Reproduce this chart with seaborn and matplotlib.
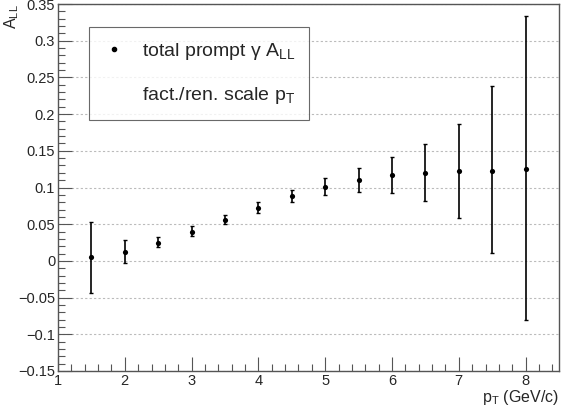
import numpy as np
import pandas as pd
import matplotlib
matplotlib.use('Agg')
import matplotlib.pyplot as plt
import seaborn as sns
from matplotlib.ticker import MultipleLocator
from matplotlib.lines import Line2D

pt = [1.5, 2.0, 2.5, 3.0, 3.5, 4.0, 4.5, 5.0, 5.5, 6.0, 6.5, 7.0, 7.5, 8.0]
all_vals = [0.005, 0.012, 0.025, 0.040, 0.056, 0.072, 0.088, 0.101, 0.110, 0.117, 0.120, 0.122, 0.123, 0.125]
err_lo = [0.049, 0.015, 0.006, 0.006, 0.006, 0.007, 0.008, 0.011, 0.016, 0.024, 0.038, 0.064, 0.112, 0.205]
err_hi = [0.048, 0.017, 0.007, 0.007, 0.007, 0.008, 0.008, 0.012, 0.017, 0.025, 0.039, 0.065, 0.115, 0.208]

df = pd.DataFrame({'pt': pt, 'all': all_vals})

sns.set_style('ticks')
plt.rcParams['font.family'] = ['Liberation Sans', 'DejaVu Sans']
plt.rcParams['mathtext.fontset'] = 'custom'
plt.rcParams['mathtext.rm'] = 'Liberation Sans'

fig = plt.figure(figsize=(5.61, 4.13), dpi=100)
ax = fig.add_axes([0.1034, 0.1017, 0.8930, 0.8886])

ax.errorbar(df['pt'], df['all'], yerr=[err_lo, err_hi], fmt='none',
            ecolor='black', elinewidth=1.2, capsize=1.5, capthick=1.0, zorder=3)
sns.scatterplot(data=df, x='pt', y='all', ax=ax, color='black', s=14,
                marker='o', edgecolor='black', linewidth=0, zorder=4, legend=False)

ax.set_xlim(1, 8.5)
ax.set_ylim(-0.15, 0.35)
ax.xaxis.set_minor_locator(MultipleLocator(0.2))
ax.yaxis.set_minor_locator(MultipleLocator(0.01))
ax.set_xticks([1, 2, 3, 4, 5, 6, 7, 8])
ax.set_xticklabels(['1', '2', '3', '4', '5', '6', '7', '8'])
yt = np.round(np.arange(-0.15, 0.351, 0.05), 2)
ax.set_yticks(yt)
ax.set_yticklabels(['0' if v == 0 else f'{v:g}'.replace('-', '\u2212') for v in yt])

ax.tick_params(which='major', direction='in', length=10, width=0.8, color='#555555',
               labelsize=10.5, pad=2, top=False, right=False)
ax.tick_params(which='minor', direction='in', length=5, width=0.8, color='#555555',
               top=False, right=False)
ax.grid(axis='y', which='major', linestyle=(0, (2, 2)), color='#bbbbbb', linewidth=0.8)
for s in ax.spines.values():
    s.set_color('#555555')
    s.set_linewidth(1.0)

ax.set_xlabel('p$_{\\rm T}$ (GeV/c)', fontsize=11.5, loc='right', labelpad=0)
ax.set_ylabel('A$_{\\rm LL}$', fontsize=11.5, loc='top', labelpad=-2)

# legend: dot for the data, invisible dot for the scale note
dot = Line2D([], [], linestyle='none', marker='o', markersize=3, color='black')
blank = Line2D([], [], linestyle='none', marker='o', markersize=3, color='none')
leg = ax.legend([dot, blank],
                ['total prompt \u03b3 A$_{\\rm LL}$', 'fact./ren. scale p$_{\\rm T}$'],
                loc='upper left', bbox_to_anchor=(0.062, 0.937), borderaxespad=0,
                frameon=True, fancybox=False, edgecolor='#444444', fontsize=14,
                handlelength=1.2, handletextpad=0.8, labelspacing=1.2,
                borderpad=0.7, alignment='left')
leg.get_frame().set_linewidth(0.8)

fig.savefig('out.png', dpi=100)
